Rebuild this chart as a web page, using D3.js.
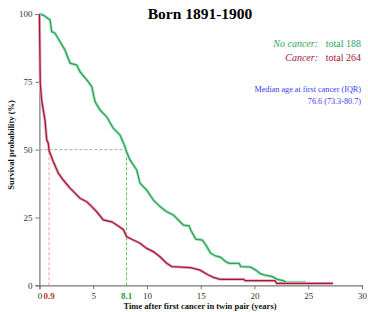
<!DOCTYPE html>
<html><head><meta charset="utf-8">
<script src="https://cdn.jsdelivr.net/npm/d3@7"></script>
<style>body{margin:0;background:#fff}svg{display:block}text{font-family:"Liberation Serif","DejaVu Serif",serif}</style>
</head><body><svg id="c" width="368" height="312"></svg>
<script>
const title = "Born 1891-1900";
const xTicks = [0, 5, 10, 15, 20, 25, 30];
const yTicks = [0, 25, 50, 75, 100];
// No cancer (green) KM curve: time (years), survival (%)
const noCancerT = [0,0.36,0.99,1.14,1.45,1.92,2.38,2.85,3.47,3.78,4.55,4.87,5.17,5.64,6.26,6.87,7.5,7.96,8.1,8.43,9.05,9.36,9.98,10.6,11.22,11.84,12.46,13.08,13.39,13.92,14.07,14.54,15.15,15.47,15.93,16.4,16.87,17.33,17.64,18.57,18.73,19.66,20.12,20.5,20.89,21.67,22.13,22.75,22.9,24.77];
const noCancerS = [100,99.6,97.8,93.5,92.9,89.8,86.7,81.9,81.2,78.7,75.0,73.2,67.7,64.6,62.1,57.9,55.4,51.1,49.2,46.2,42.5,37.6,35.1,31.4,29.0,27.1,25.9,23.4,22.2,21.9,20.4,17.0,16.7,14.9,11.8,10.8,10.3,8.7,8.1,8.1,6.9,6.7,5.6,4.4,3.8,3.2,2.2,1.6,1.1,1.1];
// Cancer (red) KM curve
const cancerT = [0,0.08,0.21,0.36,0.52,0.68,0.83,0.9,1.29,1.76,2.22,2.85,3.78,4.4,4.87,5.33,5.94,6.73,7.19,7.8,8.12,8.73,9.36,9.98,10.6,11.22,11.84,12.31,14.07,14.94,15.71,16.18,16.8,19.0,19.13,21.9,22.07,27.3];
const cancerS = [100,74.5,68.3,64.6,60.9,53.6,52.3,49.6,45.6,41.3,38.8,35.8,32.1,30.8,29.0,27.1,24.1,23.4,22.2,20.6,17.9,16.7,15.5,13.6,12.4,10.5,8.1,6.9,6.5,5.6,3.8,2.9,2.2,2.2,1.7,1.7,0.7,0.7];
const medianCancer = 0.9, medianNoCancer = 8.1;
const legendNames = ["No cancer:", "Cancer:"];
const legendTotals = ["total 188", "total 264"];
const infoLines = ["Median age at first cancer (IQR)", "76.6 (73.3-80.7)"];

const GREEN = "#2aa65a", RED = "#a3173a", BLUE = "#3b3bf5";
const FONT = '"Liberation Serif","DejaVu Serif",serif';
const svg = d3.select("#c");
const x = d3.scaleLinear().domain([0, 30]).range([39.4, 362]);
const y = d3.scaleLinear().domain([0, 100]).range([285.3, 14]);

// axes
const xa = svg.append("g").attr("transform", `translate(0,${y(0)})`)
  .call(d3.axisBottom(x).tickValues(xTicks).tickSize(4).tickPadding(3).tickFormat(d3.format("d")));
const ya = svg.append("g").attr("transform", `translate(${x(0)},0)`)
  .call(d3.axisLeft(y).tickValues(yTicks).tickSize(4).tickPadding(3).tickFormat(d3.format("d")));
[xa, ya].forEach(g => {
  g.attr("font-family", FONT);
  g.select(".domain").attr("stroke", "#777").attr("stroke-width", 1.2);
  g.selectAll(".tick line").attr("stroke", "#777");
  g.selectAll(".tick text").attr("fill", "#333").style("font-size", "9px").style("font-family", FONT);
});

// median guide lines
svg.append("line").attr("x1", x(0)).attr("x2", x(medianNoCancer)).attr("y1", y(50)).attr("y2", y(50))
  .attr("stroke", "#aaa").attr("stroke-dasharray", "3,2").attr("stroke-width", 1);
svg.append("line").attr("x1", x(medianCancer)).attr("x2", x(medianCancer)).attr("y1", y(0)).attr("y2", y(50))
  .attr("stroke", "#f59a9a").attr("stroke-dasharray", "3,2").attr("stroke-width", 1);
svg.append("line").attr("x1", x(medianNoCancer)).attr("x2", x(medianNoCancer)).attr("y1", y(0)).attr("y2", y(50))
  .attr("stroke", "#5cc85c").attr("stroke-dasharray", "3,2").attr("stroke-width", 1);

// curves
const line = d3.line().x(d => x(d[0])).y(d => y(d[1])).curve(d3.curveLinear);
const gData = noCancerT.map((t, i) => [t, noCancerS[i]]);
const rData = cancerT.map((t, i) => [t, cancerS[i]]);
[[gData, GREEN, "#b0e0c0"], [rData, RED, "#e6b0bc"]].forEach(([d, c, halo]) => {
  svg.append("path").datum(d).attr("d", line).attr("fill", "none").attr("stroke", halo).attr("stroke-width", 3);
  svg.append("path").datum(d).attr("d", line).attr("fill", "none").attr("stroke", c).attr("stroke-width", 1.3);
});

// median labels on x axis
svg.append("text").attr("x", x(medianCancer)).attr("y", 299).attr("text-anchor", "middle")
  .attr("fill", "#c0392b").style("font-size", "9px").style("font-weight", "bold").text(medianCancer);
svg.append("text").attr("x", x(medianNoCancer)).attr("y", 299).attr("text-anchor", "middle")
  .attr("fill", "#2a9a3a").style("font-size", "9px").style("font-weight", "bold").text(medianNoCancer);

// title
svg.append("text").attr("x", 200).attr("y", 19).attr("text-anchor", "middle")
  .style("font-size", "15.5px").style("font-weight", "bold").attr("fill", "#000").text(title);

// axis titles
svg.append("text").attr("transform", `translate(14,145) rotate(-90)`).attr("text-anchor", "middle")
  .style("font-size", "8.5px").style("font-weight", "bold").attr("fill", "#111").text("Survival probability (%)");
svg.append("text").attr("x", 200).attr("y", 309).attr("text-anchor", "middle")
  .style("font-size", "8.5px").style("font-weight", "bold").attr("fill", "#111").text("Time after first cancer in twin pair (years)");

// legend
const lc = [GREEN, RED];
legendNames.forEach((n, i) => {
  svg.append("text").attr("x", 318).attr("y", 47 + i * 14).attr("text-anchor", "end")
    .style("font-size", "10px").style("font-style", "italic").attr("fill", lc[i]).text(n);
  svg.append("text").attr("x", 361).attr("y", 47 + i * 14).attr("text-anchor", "end")
    .style("font-size", "10px").attr("fill", lc[i]).text(legendTotals[i]);
});
infoLines.forEach((t, i) => {
  svg.append("text").attr("x", 361).attr("y", 92 + i * 12).attr("text-anchor", "end")
    .style("font-size", "8.2px").attr("fill", BLUE).text(t);
});
</script></body></html>
